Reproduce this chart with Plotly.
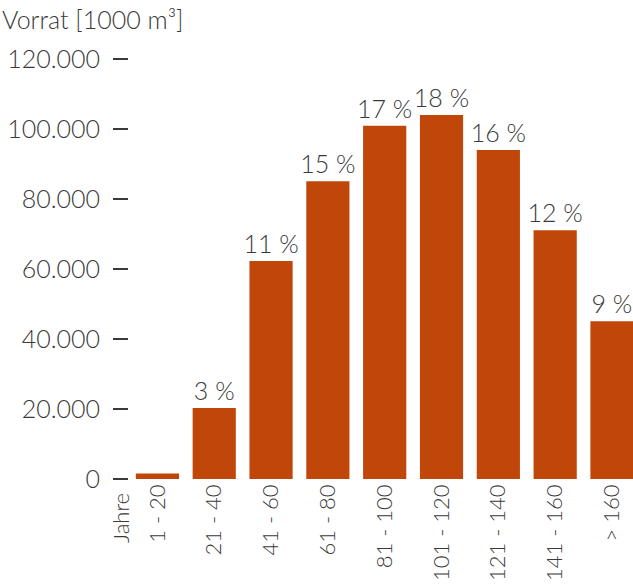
import plotly.graph_objects as go

categories = ["1 - 20", "21 - 40", "41 - 60", "61 - 80", "81 - 100", "101 - 120", "121 - 140", "141 - 160", "> 160"]
vorrat = [1600, 20300, 62300, 85100, 100900, 104000, 94000, 71100, 45100]
pct_labels = ["", "3 %", "11 %", "15 %", "17 %", "18 %", "16 %", "12 %", "9 %"]
y_tickvals = [0, 20000, 40000, 60000, 80000, 100000, 120000]
y_ticktext = ["0", "20.000", "40.000", "60.000", "80.000", "100.000", "120.000"]

FONT = "Lato"
W = 300
SZ = 25
TXT = "#3a3a3a"
BAR = "#c0460a"

def f(size=SZ):
    return dict(family=FONT, size=size, color=TXT, weight=W)

fig = go.Figure(go.Bar(
    x=list(range(len(categories))), y=vorrat,
    marker_color=BAR, marker_line_width=0,
    text=pct_labels, textposition="outside", constraintext="none",
    textfont=f(), cliponaxis=False,
))

fig.update_layout(
    width=633, height=585,
    margin=dict(l=129, r=0, t=59, b=106, autoexpand=False),
    paper_bgcolor="white", plot_bgcolor="white",
    bargap=0.24, showlegend=False,
    font=f(),
    xaxis=dict(
        range=[-0.5, 8.37], tickmode="array",
        tickvals=list(range(len(categories))), ticktext=categories,
        tickangle=-90, showgrid=False, showline=False, zeroline=False,
        ticks="", tickfont=f(22), automargin=False,
    ),
    yaxis=dict(
        range=[0, 120000], tickmode="array",
        tickvals=y_tickvals, ticktext=y_ticktext,
        showgrid=False, showline=False, zeroline=False,
        ticks="outside", ticklen=15, tickwidth=1.5, tickcolor=TXT,
        ticklabelstandoff=8, tickfont=f(), automargin=False,
    ),
    annotations=[
        dict(text="Vorrat [1000 m³]", xref="paper", yref="paper",
             x=-129/504, y=1 + 59/420, xanchor="left", yanchor="top",
             yshift=-2, showarrow=False, font=f()),
        dict(text="Jahre", xref="paper", yref="paper",
             x=-9/504, y=-12/420, xanchor="center", yanchor="top",
             textangle=-90, showarrow=False, font=f(22)),
    ],
)

fig.write_html("out.html")
